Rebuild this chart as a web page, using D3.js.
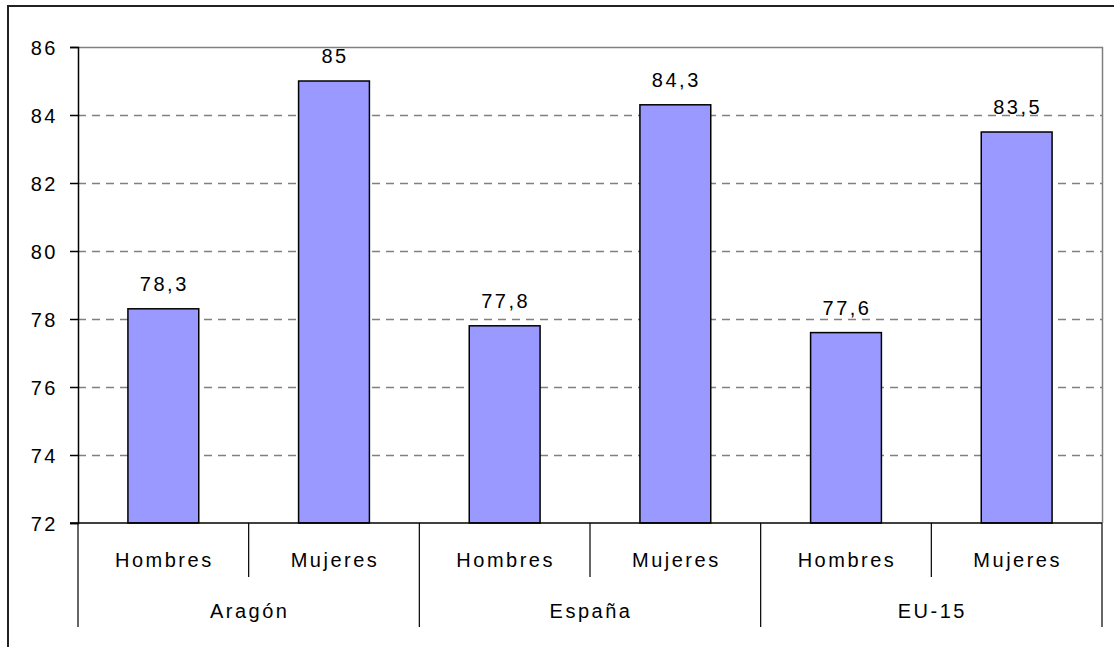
<!DOCTYPE html>
<html>
<head>
<meta charset="utf-8">
<script src="https://cdn.jsdelivr.net/npm/d3@7"></script>
<style>
	body { margin: 0; background: #fff; }
	svg text { font-family: "Liberation Sans", Arial, sans-serif; font-size: 20px; letter-spacing: 2.5px; fill: #000; }
</style>
</head>
<body>
<svg id="chart" width="1114" height="647"></svg>
<script>
// data
const groups = ["Aragón", "España", "EU-15"];
const sexes = ["Hombres", "Mujeres"];
const values = [78.3, 85, 77.8, 84.3, 77.6, 83.5];
const yTicks = [72, 74, 76, 78, 80, 82, 84, 86];

const fmt = v => String(v).replace(".", ",");

const svg = d3.select("#chart");
const plotL = 78, plotR = 1102, plotT = 47, plotB = 523;

// outer frame (runs off the right / bottom edge like the source)
svg.append("rect")
	.attr("x", 8).attr("y", 6)
	.attr("width", 1120).attr("height", 660)
	.attr("fill", "none").attr("stroke", "#222").attr("stroke-width", 2);

// one slot per bar
const cats = [];
groups.forEach(g => sexes.forEach(s => cats.push(g + "|" + s)));

const x = d3.scaleBand().domain(cats).range([plotL, plotR]);
const xg = d3.scaleBand().domain(groups).range([plotL, plotR]);
const y = d3.scaleLinear().domain([72, 86]).range([plotB, plotT]);

// gridlines
svg.append("g").selectAll("line")
	.data(yTicks.filter(t => t > 72 && t < 86))
	.join("line")
	.attr("x1", plotL).attr("x2", plotR)
	.attr("y1", d => y(d) + 0.5).attr("y2", d => y(d) + 0.5)
	.attr("stroke", "#808080").attr("stroke-width", 1.5)
	.attr("stroke-dasharray", "8,6");

// plot frame top + right (grey)
svg.append("path")
	.attr("d", `M${plotL},${y(86) + 0.5}H${plotR + 0.5}V${plotB}`)
	.attr("fill", "none").attr("stroke", "#808080").attr("stroke-width", 1.5);

// bars
const bw = x.bandwidth() * 0.415;
svg.append("g").selectAll("rect")
	.data(values)
	.join("rect")
	.attr("x", (d, i) => x(cats[i]) + (x.bandwidth() - bw) / 2)
	.attr("y", d => y(d))
	.attr("width", bw)
	.attr("height", d => y(72) - y(d))
	.attr("fill", "#9999FF").attr("stroke", "#000").attr("stroke-width", 1.5);

// value labels
svg.append("g").selectAll("text")
	.data(values)
	.join("text")
	.attr("x", (d, i) => x(cats[i]) + x.bandwidth() / 2 + 1)
	.attr("y", d => y(d) - 18)
	.attr("text-anchor", "middle")
	.text(d => fmt(d));

// y axis
const yAxis = d3.axisLeft(y).tickValues(yTicks).tickSize(8).tickPadding(12).tickFormat(d => d);
const ya = svg.append("g").attr("transform", `translate(${plotL},0)`).call(yAxis);
ya.attr("font-size", null).attr("font-family", null);
ya.select(".domain").attr("stroke", "#000").attr("stroke-width", 1.5);
ya.selectAll(".tick line").attr("stroke", "#000").attr("stroke-width", 1.5);
ya.selectAll(".tick text").attr("fill", "#000").attr("dy", "0.35em");

// x axis baseline
svg.append("line")
	.attr("x1", plotL - 8).attr("x2", plotR)
	.attr("y1", plotB).attr("y2", plotB)
	.attr("stroke", "#000").attr("stroke-width", 1.5);

// category dividers (short) and group dividers (long)
const sub = svg.append("g");
cats.forEach((c, i) => {
	if (i % sexes.length === 0) return;
	sub.append("line")
		.attr("x1", x(c)).attr("x2", x(c))
		.attr("y1", plotB).attr("y2", 577)
		.attr("stroke", "#000").attr("stroke-width", 1.2);
});
groups.concat([null]).forEach(g => {
	const xx = g ? xg(g) : plotR;
	sub.append("line")
		.attr("x1", xx).attr("x2", xx)
		.attr("y1", plotB).attr("y2", 627)
		.attr("stroke", "#000").attr("stroke-width", 1.2);
});

// category labels
svg.append("g").selectAll("text")
	.data(cats)
	.join("text")
	.attr("x", d => x(d) + x.bandwidth() / 2 + 1)
	.attr("y", 567)
	.attr("text-anchor", "middle")
	.text(d => d.split("|")[1]);

// group labels
svg.append("g").selectAll("text")
	.data(groups)
	.join("text")
	.attr("x", d => xg(d) + xg.bandwidth() / 2 + 1)
	.attr("y", 618)
	.attr("text-anchor", "middle")
	.text(d => d);
</script>
</body>
</html>
